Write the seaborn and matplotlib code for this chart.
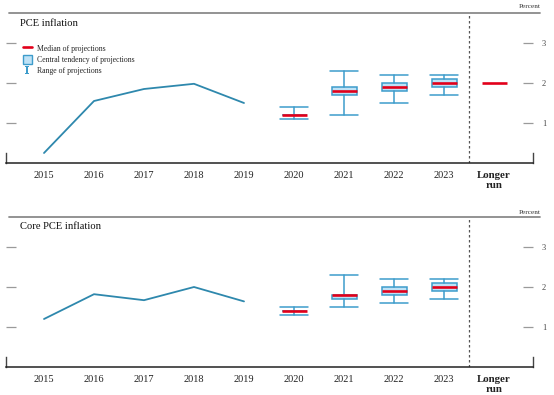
import numpy as np
import matplotlib
matplotlib.use('Agg')
import matplotlib.pyplot as plt
from matplotlib.lines import Line2D
from matplotlib.patches import Patch
import seaborn as sns

# categories
cats = ['2015', '2016', '2017', '2018', '2019', '2020', '2021', '2022', '2023', 'Longer\nrun']
hist_years = ['2015', '2016', '2017', '2018', '2019']
proj_years = ['2020', '2021', '2022', '2023']

# PCE inflation
pce_hist = [0.25, 1.55, 1.85, 1.98, 1.5]
pce_med = [1.2, 1.8, 1.9, 2.0]
pce_ct_lo = [1.2, 1.7, 1.8, 1.9]
pce_ct_hi = [1.2, 1.9, 2.0, 2.1]
pce_rng_lo = [1.1, 1.2, 1.5, 1.7]
pce_rng_hi = [1.4, 2.3, 2.2, 2.2]
pce_longer_run = 2.0

# Core PCE inflation
core_hist = [1.2, 1.82, 1.67, 2.0, 1.64]
core_med = [1.4, 1.8, 1.9, 2.0]
core_ct_lo = [1.4, 1.7, 1.8, 1.9]
core_ct_hi = [1.4, 1.8, 2.0, 2.1]
core_rng_lo = [1.3, 1.5, 1.6, 1.7]
core_rng_hi = [1.5, 2.3, 2.2, 2.2]

LINE_C = '#2e88ad'
BOX_EDGE = '#3d9ccb'
BOX_FILL = '#bfe2f6'
MED_C = '#e2001a'

sns.set_style('white')
plt.rcParams['font.family'] = ['Liberation Serif', 'DejaVu Serif']

fig = plt.figure(figsize=(5.54, 3.95), dpi=100)
W, H = 554, 395


def px_axes(x0, y0, x1, y1):
    return fig.add_axes([x0 / W, 1 - y1 / H, (x1 - x0) / W, (y1 - y0) / H])


def draw_panel(ax, hist, med, ct_lo, ct_hi, rng_lo, rng_hi, longer_run=None):
    pos = {c: i for i, c in enumerate(cats)}
    sns.lineplot(x=[pos[y] for y in hist_years], y=hist, ax=ax, color=LINE_C, lw=1.3)

    stats = []
    for i in range(len(proj_years)):
        stats.append({'whislo': rng_lo[i], 'q1': ct_lo[i], 'med': med[i],
                      'q3': ct_hi[i], 'whishi': rng_hi[i], 'fliers': []})
    ax.bxp(stats, positions=[pos[y] for y in proj_years], widths=0.5, capwidths=0.55,
           patch_artist=True, showfliers=False,
           boxprops=dict(facecolor=BOX_FILL, edgecolor=BOX_EDGE, lw=1.1),
           whiskerprops=dict(color=BOX_EDGE, lw=1.1),
           capprops=dict(color=BOX_EDGE, lw=1.1),
           medianprops=dict(color=MED_C, lw=1.9))
    if longer_run is not None:
        p = pos['Longer\nrun']
        ax.hlines(longer_run, p - 0.25, p + 0.25, color=MED_C, lw=1.9)

    ax.axvline(8.5, color='#555555', ls=(0, (2, 2)), lw=0.9)

    ax.set_xlim(-0.76, 9.78)
    ax.set_ylim(0, 3.75)
    ax.set_xticks(range(len(cats)))
    ax.set_xticklabels(cats)
    ax.set_xticks(np.arange(-0.5, 10, 1.0), minor=True)
    ax.tick_params(axis='x', which='major', length=0, labelsize=7.5, pad=6, labelcolor='#222222')
    ax.tick_params(axis='x', which='minor', length=6, width=1.1, direction='in', color='#222222')
    lr = ax.get_xticklabels()[-1]
    lr.set_fontweight('semibold')
    lr.set_fontsize(7.8)
    lr.set_linespacing(1.1)

    ax.set_yticks([1, 2, 3])
    ax.tick_params(axis='y', left=True, right=True, labelleft=False, labelright=True,
                   direction='in', length=7.5, width=0.9, color='#9a9a9a',
                   labelsize=6, pad=6.5, labelcolor='#444444')
    ax.set_xlabel('')
    ax.set_ylabel('')

    ax.spines['top'].set_visible(False)
    for s in ['left', 'right']:
        ax.spines[s].set_bounds(0, 0.25)
        ax.spines[s].set_color('#444444')
        ax.spines[s].set_linewidth(1.0)
    ax.spines['bottom'].set_color('#222222')
    ax.spines['bottom'].set_linewidth(1.1)
    ax.patch.set_alpha(0)


def panel_frame(y_rule, title, y_title, y_pct):
    fig.add_artist(Line2D([9 / W, 540 / W], [1 - y_rule / H, 1 - y_rule / H],
                          color='#8a8a8a', lw=1.3, transform=fig.transFigure))
    fig.text(20 / W, 1 - y_title / H, title, fontsize=7.6, va='center', ha='left', color='#111111')
    fig.text(541 / W, 1 - y_pct / H, 'Percent', fontsize=5.2, va='center', ha='right', color='#333333')


ax1 = px_axes(6, 13, 533, 163)
draw_panel(ax1, pce_hist, pce_med, pce_ct_lo, pce_ct_hi, pce_rng_lo, pce_rng_hi, pce_longer_run)
panel_frame(13, 'PCE inflation', 23, 7)

handles = [Line2D([], [], color=MED_C, lw=1.9),
           Patch(facecolor=BOX_FILL, edgecolor=BOX_EDGE, lw=1.0),
           Line2D([], [], color=BOX_EDGE, ls='none', marker=r'$\mathtt{I}$', markersize=6,
                  markeredgewidth=0)]
labels = ['Median of projections', 'Central tendency of projections', 'Range of projections']
ax1.legend(handles, labels, loc='upper left', bbox_to_anchor=(0.022, 0.83), frameon=False,
           fontsize=5.6, handlelength=1.1, handleheight=1.3, handletextpad=0.75,
           labelspacing=0.3, borderpad=0.2)

ax2 = px_axes(6, 217, 533, 367)
draw_panel(ax2, core_hist, core_med, core_ct_lo, core_ct_hi, core_rng_lo, core_rng_hi)
panel_frame(217, 'Core PCE inflation', 226, 212)

fig.savefig('out.png', dpi=100)
